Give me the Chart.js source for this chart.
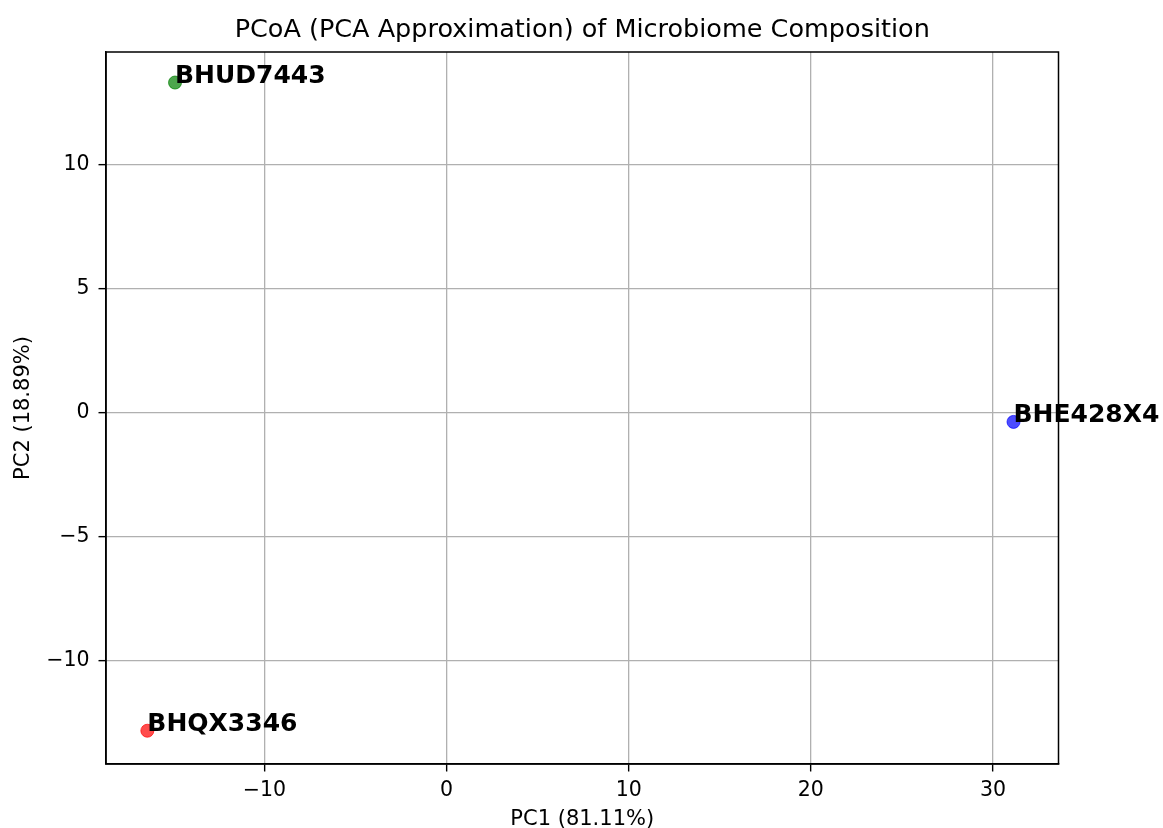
<!DOCTYPE html>
<html>
<head>
<meta charset="utf-8">
<title>PCoA of Microbiome Composition</title>
<script src="https://cdn.jsdelivr.net/npm/chart.js@4.4.1/dist/chart.umd.min.js"></script>
<style>
  html, body { margin: 0; padding: 0; background: #fff; }
  #wrap { width: 1163px; height: 828px; }
</style>
</head>
<body>
<div id="wrap"><canvas id="pcoa" width="1163" height="828"></canvas></div>
<script>
// sample coordinates
const sampleNames = ['BHUD7443', 'BHE428X4', 'BHQX3346'];
const pc1Values = [-14.91, 31.13, -16.43];
const pc2Values = [13.29, -0.38, -12.82];

const xTicks = [-10, 0, 10, 20, 30];
const yTicks = [-10, -5, 0, 5, 10];

// matplotlib autoscaled limits
const xLimits = [-18.70, 33.60];
const yLimits = [-14.16, 14.52];

const pointColors = ['rgba(0,128,0,0.7)', 'rgba(0,0,255,0.7)', 'rgba(255,0,0,0.7)'];

const FONT = "'DejaVu Sans', 'Liberation Sans', sans-serif";

const fmtTick = (v) => (v < 0 ? '\u2212' + Math.abs(v) : String(v));

// box around the plot area (matplotlib spines)
const framePlugin = {
    id: 'frame',
    beforeDatasetsDraw(chart) {
        const { ctx, chartArea: a } = chart;
        ctx.save();
        ctx.strokeStyle = '#000';
        ctx.lineWidth = 1.5;
        ctx.strokeRect(a.left, a.top, a.right - a.left, a.bottom - a.top);
        ctx.restore();
    }
};

// sample name next to each point, like plt.text(x, y, name)
const labelPlugin = {
    id: 'pointLabels',
    afterDatasetsDraw(chart) {
        const { ctx, scales: { x, y } } = chart;
        ctx.save();
        ctx.font = "bold 25px " + FONT;
        ctx.fillStyle = '#000';
        ctx.textAlign = 'left';
        ctx.textBaseline = 'alphabetic';
        sampleNames.forEach((name, i) => {
            ctx.fillText(name, x.getPixelForValue(pc1Values[i]), y.getPixelForValue(pc2Values[i]));
        });
        ctx.restore();
    }
};

const points = pc1Values.map((v, i) => ({ x: v, y: pc2Values[i] }));

const ctx = document.getElementById('pcoa').getContext('2d');
new Chart(ctx, {
    type: 'scatter',
    data: {
        datasets: [{
            data: points,
            backgroundColor: pointColors,
            borderColor: pointColors,
            borderWidth: 1,
            pointRadius: 6.5,
            pointHoverRadius: 6.5
        }]
    },
    options: {
        responsive: false,
        animation: false,
        layout: { padding: { left: 0, right: 104.5, top: 0, bottom: 0 } },
        plugins: {
            legend: { display: false },
            tooltip: { enabled: false },
            title: {
                display: true,
                fullSize: false,   // centre over the plot area, as matplotlib does
                text: 'PCoA (PCA Approximation) of Microbiome Composition',
                color: '#000',
                font: { family: FONT, size: 25.5, weight: 'normal' },
                padding: { top: 15, bottom: 6.4 }
            }
        },
        scales: {
            x: {
                type: 'linear',
                min: xLimits[0],
                max: xLimits[1],
                afterBuildTicks: (scale) => { scale.ticks = xTicks.map(v => ({ value: v })); },
                afterFit: (scale) => { scale.height = 64; },
                ticks: {
                    color: '#000',
                    padding: 7,
                    maxRotation: 0,
                    font: { family: FONT, size: 20.5 },
                    callback: fmtTick
                },
                grid: { color: '#b0b0b0', lineWidth: 1.3, tickColor: '#000', tickLength: 7.5, tickWidth: 1.4 },
                border: { display: true, color: '#000', width: 1.5 },
                title: {
                    display: true,
                    text: 'PC1 (81.11%)',
                    color: '#000',
                    font: { family: FONT, size: 21 },
                    padding: { top: 0, bottom: -4 }
                }
            },
            y: {
                type: 'linear',
                min: yLimits[0],
                max: yLimits[1],
                afterBuildTicks: (scale) => { scale.ticks = yTicks.map(v => ({ value: v })); },
                afterFit: (scale) => { scale.width = 106; },
                ticks: {
                    color: '#000',
                    padding: 9,
                    font: { family: FONT, size: 20.5 },
                    callback: fmtTick
                },
                grid: { color: '#b0b0b0', lineWidth: 1.3, tickColor: '#000', tickLength: 7.5, tickWidth: 1.4 },
                border: { display: true, color: '#000', width: 1.5 },
                title: {
                    display: true,
                    text: 'PC2 (18.89%)',
                    color: '#000',
                    font: { family: FONT, size: 21 },
                    padding: { top: 11.4, bottom: 0 }
                }
            }
        }
    },
    plugins: [framePlugin, labelPlugin]
});
</script>
</body>
</html>
